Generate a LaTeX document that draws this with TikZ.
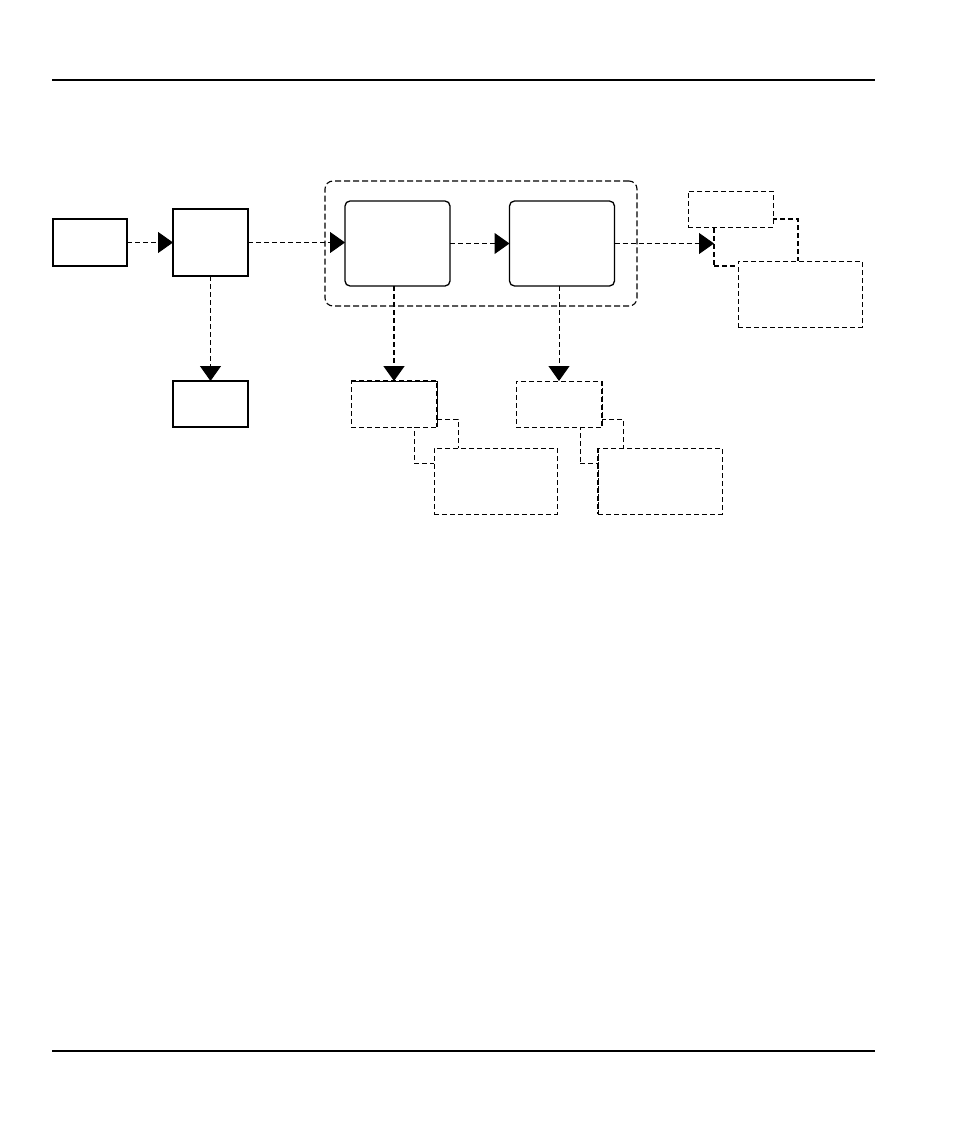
\documentclass[tikz,border=0pt]{standalone}
\usetikzlibrary{arrows.meta}
\begin{document}
\begin{tikzpicture}[x=1pt,y=-1pt,
  solidbox/.style={draw,line width=1.3pt,fill=white,inner sep=0pt,outer sep=0pt},
  roundbox/.style={solidbox,rounded corners=5pt},
  dbox/.style={draw,line width=1pt,dash pattern=on 5pt off 3pt,fill=white,inner sep=0pt,outer sep=0pt},
  dboxthick/.style={dbox,line width=1.6pt},
  thickedge/.style={line width=1.6pt,dash pattern=on 5pt off 3pt},
  groupbox/.style={draw,line width=1.1pt,dash pattern=on 6pt off 3pt,rounded corners=8pt,inner sep=0pt,outer sep=0pt},
  flow/.style={line width=1pt,dash pattern=on 5pt off 3pt,-{Triangle[length=15pt,width=21pt]}},
  flowthick/.style={flow,line width=1.6pt},
  rule/.style={line width=2.5pt}
]
\useasboundingbox (0,0) rectangle (954,1132);

% header and footer rules
\coordinate (t1) at (52,80);
\coordinate (t2) at (875,80);
\coordinate (b1) at (52,1051);
\coordinate (b2) at (875,1051);
\draw[rule] (t1) -- (t2);
\draw[rule] (b1) -- (b2);

% group frame
\node[groupbox,minimum width=312pt,minimum height=125pt] (grp) at (481,243.5) {};

% left boxes
\node[solidbox,minimum width=74pt,minimum height=47pt] (A) at (90,242.5) {};
\node[solidbox,minimum width=75pt,minimum height=67pt] (B) at (210.5,242.5) {};
\node[solidbox,minimum width=75pt,minimum height=46pt] (C) at (210.5,404) {};

% inner rounded boxes
\node[roundbox,minimum width=105pt,minimum height=85pt] (D) at (397.5,243.5) {};
\node[roundbox,minimum width=105pt,minimum height=85pt] (E) at (562,243.5) {};

% right stack
\node[dboxthick,minimum width=84pt,minimum height=47pt] (G) at (756,242.5) {};
\node[dbox,minimum width=85pt,minimum height=36pt] (F) at (730.5,209) {};
\node[dbox,minimum width=124pt,minimum height=66pt] (H) at (800,294) {};

% bottom stack 1
\node[dbox,minimum width=44pt,minimum height=44pt] (M1) at (436,441) {};
\node[dbox,minimum width=86pt,minimum height=46pt] (S1) at (394,404) {};
\draw[thickedge] (S1.north west) -- (S1.north east) -- (S1.south east);
\node[dbox,minimum width=123pt,minimum height=66pt] (L1) at (495.5,481) {};

% bottom stack 2
\node[dbox,minimum width=43pt,minimum height=44pt] (M2) at (601.5,441) {};
\node[dbox,minimum width=86pt,minimum height=46pt] (S2) at (559,404) {};
\draw[thickedge] (S2.north east) -- (S2.south east);
\node[dbox,minimum width=124pt,minimum height=66pt] (L2) at (660,481) {};
\draw[thickedge] (L2.north west) -- (L2.south west);

% connectors
\draw[flow] (A.east) -- (B.west);
\draw[flow] (B.east) -- (B.east -| D.west);
\draw[flow] (D.east) -- (E.west);
\draw[flow] (E.east) -- (E.east -| G.west);
\draw[flow] (B.south) -- (C.north);
\draw[flowthick] (S1.north |- D.south) -- (S1.north);
\draw[flow] (S2.north |- E.south) -- (S2.north);
\end{tikzpicture}
\end{document}
